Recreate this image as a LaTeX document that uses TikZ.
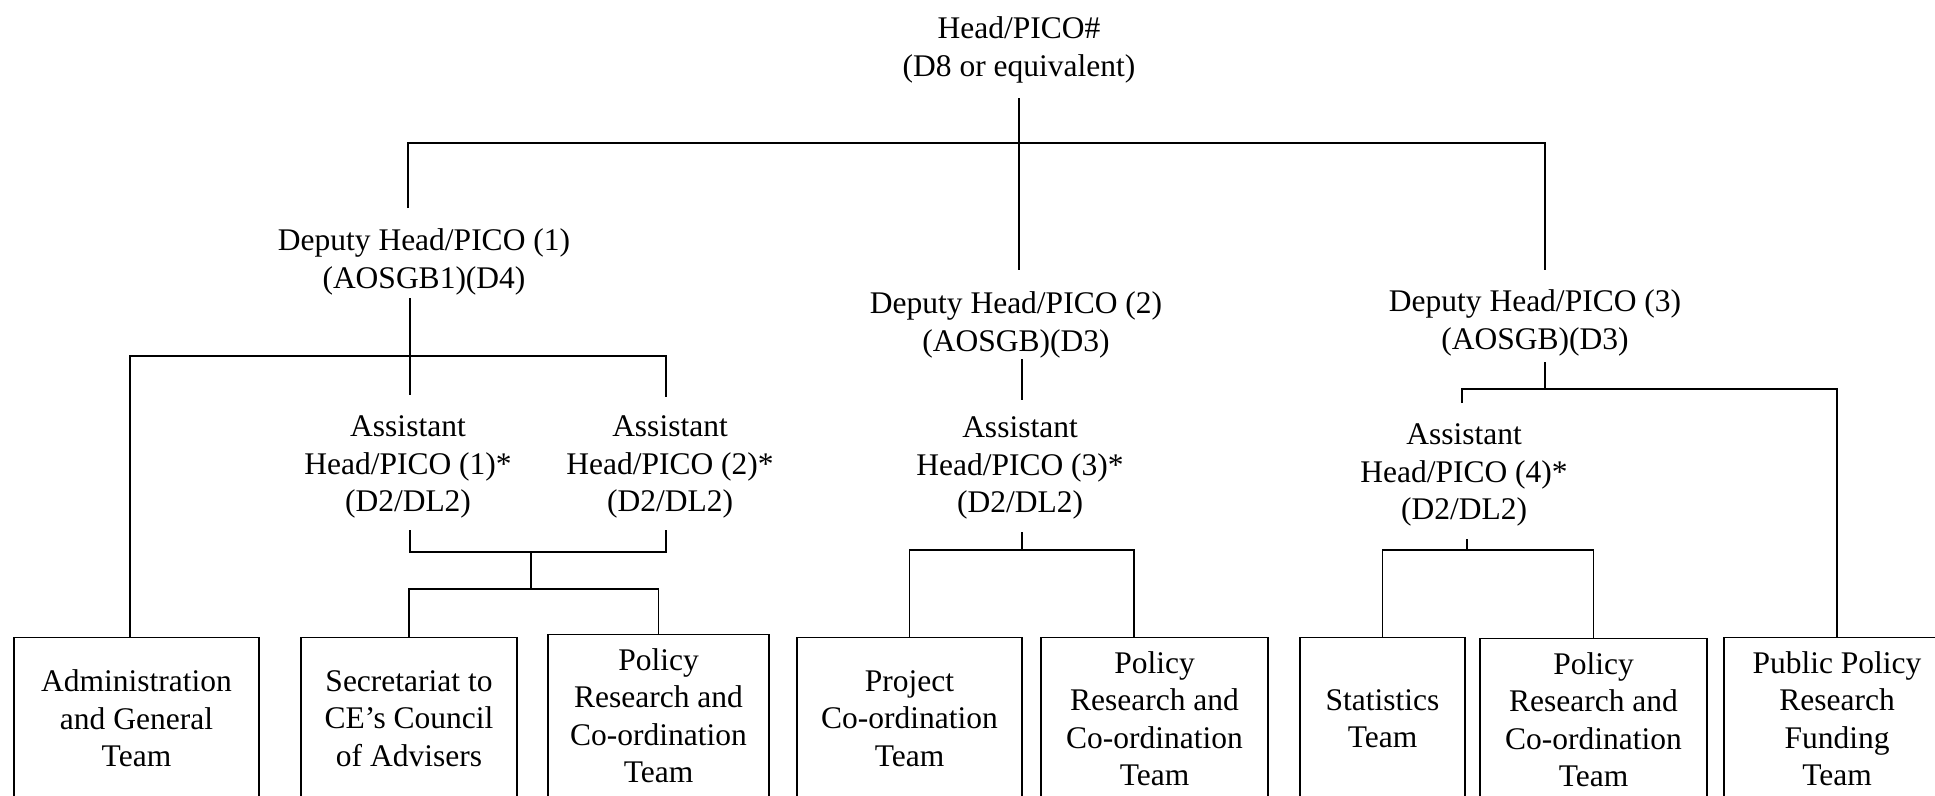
\documentclass[tikz,border=0pt]{standalone}
\usepackage{fontspec}
\setmainfont{Liberation Serif}

\begin{document}
\begin{tikzpicture}[x=1pt, y=-1pt, line width=1.2pt,
        font=\fontsize{31.5}{37.5}\selectfont,
        post/.style={align=center, inner sep=0pt},
        team/.style={draw, anchor=north, align=center, minimum height=162, inner sep=0pt}]
    \useasboundingbox (0,0) rectangle (1935,795);
    \clip (0,0) rectangle (1935,795);

    \node[post] (0) at (1019, 50) {Head/PICO\#\\(D8 or equivalent)};
    \node[post] (1) at (424, 262) {Deputy Head/PICO (1)\\(AOSGB1)(D4)};
    \node[post] (2) at (1016, 325) {Deputy Head/PICO (2)\\(AOSGB)(D3)};
    \node[post] (3) at (1535, 323) {Deputy Head/PICO (3)\\(AOSGB)(D3)};
    \node[post] (4) at (408, 467) {Assistant\\Head/PICO (1)*\\(D2/DL2)};
    \node[post] (5) at (670, 467) {Assistant\\Head/PICO (2)*\\(D2/DL2)};
    \node[post] (6) at (1020, 468) {Assistant\\Head/PICO (3)*\\(D2/DL2)};
    \node[post] (7) at (1464, 475) {Assistant\\Head/PICO (4)*\\(D2/DL2)};

    \node[team, minimum width=245] (8) at (136.5, 637) {Administration\\and General\\Team};
    \node[team, minimum width=216] (9) at (409, 637) {Secretariat to\\CE's Council\\of Advisers};
    \node[team, minimum width=221] (10) at (658.5, 634) {Policy\\Research and\\Co-ordination\\Team};
    \node[team, minimum width=225] (11) at (909.5, 637) {Project\\Co-ordination\\Team};
    \node[team, minimum width=227] (12) at (1154.5, 637) {Policy\\Research and\\Co-ordination\\Team};
    \node[team, minimum width=165] (13) at (1382.5, 637) {Statistics\\Team};
    \node[team, minimum width=227] (14) at (1593.5, 638) {Policy\\Research and\\Co-ordination\\Team};
    \node[team, minimum width=226] (15) at (1837, 637) {Public Policy\\Research\\Funding\\Team};

    \coordinate (0a) at (1019, 98);
    \coordinate (0r) at (1545, 143);
    \coordinate (1t) at (408, 208);
    \coordinate (2t) at (1019, 270);
    \coordinate (3t) at (1545, 270);
    \draw (0a) -- (2t);
    \draw (1t) |- (0r) -- (3t);

    \coordinate (1b) at (410, 298);
    \coordinate (1l) at (130, 356);
    \coordinate (1r) at (666, 356);
    \coordinate (4t) at (410, 395);
    \coordinate (5t) at (666, 397);
    \draw (1b) -- (4t);
    \draw (1l |- 8.north) -- (1l) -- (1r) -- (5t);

    \coordinate (4b) at (410, 530);
    \coordinate (5b) at (666, 530);
    \coordinate (4j) at (531, 552);
    \coordinate (4k) at (531, 589);
    \draw (4b) |- (4j) -| (5b);
    \draw (4j) -- (4k);
    \draw (9.north) |- (4k) -| (10.north);

    \coordinate (2b) at (1022, 359);
    \coordinate (6t) at (1022, 400);
    \coordinate (6b) at (1022, 532);
    \coordinate (6j) at (1022, 550);
    \coordinate (6r) at (1134, 550);
    \draw (2b) -- (6t);
    \draw (6b) -- (6j);
    \draw (11.north) |- (6r) -- (6r |- 12.north);

    \coordinate (3b) at (1545, 362);
    \coordinate (3j) at (1545, 389);
    \coordinate (7t) at (1462, 403);
    \draw (3b) -- (3j);
    \draw (7t) |- (3j) -| (15.north);

    \coordinate (7b) at (1467, 539);
    \coordinate (7j) at (1467, 550);
    \draw (7b) -- (7j);
    \draw (13.north) |- (7j) -| (14.north);
\end{tikzpicture}
\end{document}
